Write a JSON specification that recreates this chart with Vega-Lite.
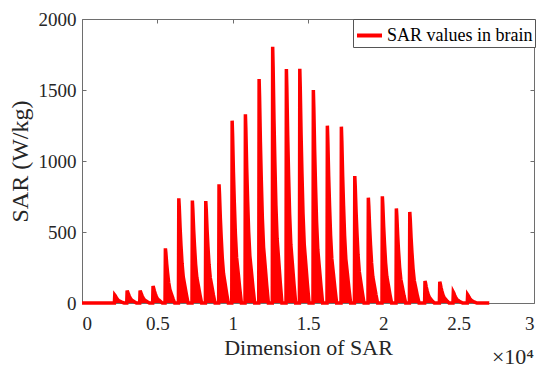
{
  "$schema": "https://vega.github.io/schema/vega-lite/v6.json",
  "autosize": "none",
  "width": 452,
  "height": 284,
  "padding": {"left": 82, "top": 19, "right": 16, "bottom": 70},
  "background": "white",
  "config": {
    "font": "Liberation Serif, serif",
    "view": {"stroke": "#6e6e6e", "strokeWidth": 1},
    "axis": {
      "grid": false,
      "domain": false,
      "tickColor": "#6e6e6e",
      "tickSize": -4,
      "labelFont": "Liberation Serif, serif",
      "labelFontSize": 19,
      "labelColor": "#262626",
      "titleFont": "Liberation Serif, serif",
      "titleFontWeight": "normal",
      "titleColor": "#262626"
    },
    "legend": {"labelFont": "Liberation Serif, serif"}
  },
  "title": {
    "text": "×10⁴",
    "orient": "bottom",
    "anchor": "end",
    "frame": "group",
    "font": "Liberation Serif, serif",
    "fontSize": 22,
    "fontWeight": "normal",
    "color": "#262626",
    "offset": -11
  },
  "data": {
    "values": [
      {"x": 0, "y": 0},
      {"x": 2150, "y": 0}, {"x": 2175, "y": 56}, {"x": 2205, "y": 52}, {"x": 2260, "y": 40}, {"x": 2320, "y": 31}, {"x": 2390, "y": 21}, {"x": 2470, "y": 14}, {"x": 2570, "y": 10}, {"x": 2680, "y": 4}, {"x": 2790, "y": 0},
      {"x": 2970, "y": 0}, {"x": 2995, "y": 87}, {"x": 3025, "y": 80}, {"x": 3080, "y": 63}, {"x": 3140, "y": 48}, {"x": 3210, "y": 33}, {"x": 3290, "y": 22}, {"x": 3390, "y": 15}, {"x": 3500, "y": 7}, {"x": 3610, "y": 0},
      {"x": 3830, "y": 0}, {"x": 3855, "y": 87}, {"x": 3885, "y": 80}, {"x": 3940, "y": 63}, {"x": 4000, "y": 48}, {"x": 4070, "y": 33}, {"x": 4150, "y": 22}, {"x": 4250, "y": 15}, {"x": 4360, "y": 7}, {"x": 4470, "y": 0},
      {"x": 4690, "y": 0}, {"x": 4715, "y": 120}, {"x": 4745, "y": 110}, {"x": 4800, "y": 86}, {"x": 4860, "y": 66}, {"x": 4930, "y": 46}, {"x": 5010, "y": 30}, {"x": 5110, "y": 20}, {"x": 5220, "y": 10}, {"x": 5330, "y": 0},
      {"x": 5510, "y": 0}, {"x": 5535, "y": 385}, {"x": 5565, "y": 354}, {"x": 5620, "y": 277}, {"x": 5680, "y": 212}, {"x": 5750, "y": 146}, {"x": 5830, "y": 96}, {"x": 5930, "y": 65}, {"x": 6040, "y": 31}, {"x": 6150, "y": 0},
      {"x": 6400, "y": 0}, {"x": 6425, "y": 737}, {"x": 6455, "y": 678}, {"x": 6510, "y": 531}, {"x": 6570, "y": 405}, {"x": 6640, "y": 280}, {"x": 6720, "y": 184}, {"x": 6820, "y": 125}, {"x": 6930, "y": 59}, {"x": 7040, "y": 0},
      {"x": 7300, "y": 0}, {"x": 7325, "y": 721}, {"x": 7355, "y": 663}, {"x": 7410, "y": 519}, {"x": 7470, "y": 397}, {"x": 7540, "y": 274}, {"x": 7620, "y": 180}, {"x": 7720, "y": 123}, {"x": 7830, "y": 58}, {"x": 7940, "y": 0},
      {"x": 8190, "y": 0}, {"x": 8215, "y": 718}, {"x": 8245, "y": 661}, {"x": 8300, "y": 517}, {"x": 8360, "y": 395}, {"x": 8430, "y": 273}, {"x": 8510, "y": 180}, {"x": 8610, "y": 122}, {"x": 8720, "y": 57}, {"x": 8830, "y": 0},
      {"x": 9070, "y": 0}, {"x": 9095, "y": 836}, {"x": 9125, "y": 769}, {"x": 9180, "y": 602}, {"x": 9240, "y": 460}, {"x": 9310, "y": 318}, {"x": 9390, "y": 209}, {"x": 9490, "y": 142}, {"x": 9600, "y": 67}, {"x": 9710, "y": 0},
      {"x": 9940, "y": 0}, {"x": 9965, "y": 1284}, {"x": 9995, "y": 1181}, {"x": 10050, "y": 924}, {"x": 10110, "y": 706}, {"x": 10180, "y": 488}, {"x": 10260, "y": 321}, {"x": 10360, "y": 218}, {"x": 10470, "y": 103}, {"x": 10580, "y": 0},
      {"x": 10820, "y": 0}, {"x": 10845, "y": 1329}, {"x": 10875, "y": 1223}, {"x": 10930, "y": 957}, {"x": 10990, "y": 731}, {"x": 11060, "y": 505}, {"x": 11140, "y": 332}, {"x": 11240, "y": 226}, {"x": 11350, "y": 106}, {"x": 11460, "y": 0},
      {"x": 11730, "y": 0}, {"x": 11755, "y": 1577}, {"x": 11785, "y": 1451}, {"x": 11840, "y": 1135}, {"x": 11900, "y": 867}, {"x": 11970, "y": 599}, {"x": 12050, "y": 394}, {"x": 12150, "y": 268}, {"x": 12260, "y": 126}, {"x": 12370, "y": 0},
      {"x": 12630, "y": 0}, {"x": 12655, "y": 1805}, {"x": 12685, "y": 1661}, {"x": 12740, "y": 1300}, {"x": 12800, "y": 993}, {"x": 12870, "y": 686}, {"x": 12950, "y": 451}, {"x": 13050, "y": 307}, {"x": 13160, "y": 144}, {"x": 13270, "y": 0},
      {"x": 13540, "y": 0}, {"x": 13565, "y": 1648}, {"x": 13595, "y": 1516}, {"x": 13650, "y": 1187}, {"x": 13710, "y": 906}, {"x": 13780, "y": 626}, {"x": 13860, "y": 412}, {"x": 13960, "y": 280}, {"x": 14070, "y": 132}, {"x": 14180, "y": 0},
      {"x": 14430, "y": 0}, {"x": 14455, "y": 1650}, {"x": 14485, "y": 1518}, {"x": 14540, "y": 1188}, {"x": 14600, "y": 908}, {"x": 14670, "y": 627}, {"x": 14750, "y": 413}, {"x": 14850, "y": 281}, {"x": 14960, "y": 132}, {"x": 15070, "y": 0},
      {"x": 15330, "y": 0}, {"x": 15355, "y": 1500}, {"x": 15385, "y": 1380}, {"x": 15440, "y": 1080}, {"x": 15500, "y": 825}, {"x": 15570, "y": 570}, {"x": 15650, "y": 375}, {"x": 15750, "y": 255}, {"x": 15860, "y": 120}, {"x": 15970, "y": 0},
      {"x": 16260, "y": 0}, {"x": 16285, "y": 1249}, {"x": 16315, "y": 1149}, {"x": 16370, "y": 899}, {"x": 16430, "y": 687}, {"x": 16500, "y": 475}, {"x": 16580, "y": 312}, {"x": 16680, "y": 212}, {"x": 16790, "y": 100}, {"x": 16900, "y": 0},
      {"x": 17190, "y": 0}, {"x": 17215, "y": 1242}, {"x": 17245, "y": 1143}, {"x": 17300, "y": 894}, {"x": 17360, "y": 683}, {"x": 17430, "y": 472}, {"x": 17510, "y": 311}, {"x": 17610, "y": 211}, {"x": 17720, "y": 99}, {"x": 17830, "y": 0},
      {"x": 18080, "y": 0}, {"x": 18105, "y": 894}, {"x": 18135, "y": 822}, {"x": 18190, "y": 644}, {"x": 18250, "y": 492}, {"x": 18320, "y": 340}, {"x": 18400, "y": 224}, {"x": 18500, "y": 152}, {"x": 18610, "y": 72}, {"x": 18720, "y": 0},
      {"x": 18980, "y": 0}, {"x": 19005, "y": 742}, {"x": 19035, "y": 683}, {"x": 19090, "y": 534}, {"x": 19150, "y": 408}, {"x": 19220, "y": 282}, {"x": 19300, "y": 186}, {"x": 19400, "y": 126}, {"x": 19510, "y": 59}, {"x": 19620, "y": 0},
      {"x": 19910, "y": 0}, {"x": 19935, "y": 751}, {"x": 19965, "y": 691}, {"x": 20020, "y": 541}, {"x": 20080, "y": 413}, {"x": 20150, "y": 285}, {"x": 20230, "y": 188}, {"x": 20330, "y": 128}, {"x": 20440, "y": 60}, {"x": 20550, "y": 0},
      {"x": 20840, "y": 0}, {"x": 20865, "y": 666}, {"x": 20895, "y": 613}, {"x": 20950, "y": 480}, {"x": 21010, "y": 366}, {"x": 21080, "y": 253}, {"x": 21160, "y": 167}, {"x": 21260, "y": 113}, {"x": 21370, "y": 53}, {"x": 21480, "y": 0},
      {"x": 21730, "y": 0}, {"x": 21755, "y": 641}, {"x": 21785, "y": 590}, {"x": 21840, "y": 462}, {"x": 21900, "y": 353}, {"x": 21970, "y": 244}, {"x": 22050, "y": 160}, {"x": 22150, "y": 109}, {"x": 22260, "y": 51}, {"x": 22370, "y": 0},
      {"x": 22740, "y": 0}, {"x": 22765, "y": 155}, {"x": 22795, "y": 143}, {"x": 22850, "y": 112}, {"x": 22910, "y": 85}, {"x": 22980, "y": 59}, {"x": 23060, "y": 39}, {"x": 23160, "y": 26}, {"x": 23270, "y": 12}, {"x": 23380, "y": 0},
      {"x": 23720, "y": 0}, {"x": 23745, "y": 150}, {"x": 23775, "y": 138}, {"x": 23830, "y": 108}, {"x": 23890, "y": 83}, {"x": 23960, "y": 57}, {"x": 24040, "y": 38}, {"x": 24140, "y": 26}, {"x": 24250, "y": 12}, {"x": 24360, "y": 0},
      {"x": 24620, "y": 0}, {"x": 24645, "y": 77}, {"x": 24675, "y": 71}, {"x": 24730, "y": 55}, {"x": 24790, "y": 42}, {"x": 24860, "y": 29}, {"x": 24940, "y": 19}, {"x": 25040, "y": 13}, {"x": 25150, "y": 6}, {"x": 25260, "y": 0},
      {"x": 25570, "y": 0}, {"x": 25595, "y": 58}, {"x": 25625, "y": 53}, {"x": 25680, "y": 42}, {"x": 25740, "y": 32}, {"x": 25810, "y": 22}, {"x": 25890, "y": 15}, {"x": 25990, "y": 10}, {"x": 26100, "y": 5}, {"x": 26210, "y": 0},
      {"x": 27030, "y": 0}
    ]
  },
  "layer": [
    {
      "mark": {"type": "area", "color": "#ff0000", "opacity": 1},
      "encoding": {
        "x": {
          "field": "x", "type": "quantitative",
          "scale": {"domain": [0, 30000], "nice": false, "zero": false},
          "axis": {"orient": "top", "labels": false, "title": null, "values": [0, 5000, 10000, 15000, 20000, 25000, 30000]}
        },
        "y": {
          "field": "y", "type": "quantitative",
          "scale": {"domain": [0, 2000], "nice": false},
          "axis": {"orient": "right", "labels": false, "title": null, "values": [0, 500, 1000, 1500, 2000]}
        }
      }
    },
    {
      "mark": {"type": "line", "strokeWidth": 3.5},
      "encoding": {
        "x": {
          "field": "x", "type": "quantitative",
          "axis": {
            "orient": "bottom",
            "title": "Dimension of SAR",
            "titleFont": "Liberation Serif, serif",
            "titleFontSize": 22,
            "titlePadding": 4,
            "labelFont": "Liberation Serif, serif",
            "labelFontSize": 19,
            "labelPadding": 15,
            "values": [0, 5000, 10000, 15000, 20000, 25000, 30000],
            "labelExpr": "format(datum.value / 10000, '~g')"
          }
        },
        "y": {
          "field": "y", "type": "quantitative",
          "axis": {
            "orient": "left",
            "title": "SAR (W/kg)",
            "titleFont": "Liberation Serif, serif",
            "titleFontSize": 24,
            "titlePadding": 6,
            "labelFont": "Liberation Serif, serif",
            "labelFontSize": 19,
            "labelPadding": 10,
            "format": "d",
            "values": [0, 500, 1000, 1500, 2000]
          }
        },
        "color": {
          "datum": "SAR values in brain",
          "type": "nominal",
          "scale": {"range": ["#ff0000"]},
          "legend": {
            "title": null,
            "orient": "none",
            "legendX": 271,
            "legendY": 0,
            "symbolType": "stroke",
            "symbolSize": 625,
            "symbolStrokeWidth": 4,
            "labelFont": "Liberation Serif, serif",
            "labelFontSize": 18,
            "labelColor": "#000000",
            "labelOffset": 3,
            "padding": 2,
            "strokeColor": "#555555",
            "fillColor": "#ffffff"
          }
        }
      }
    }
  ],
  "resolve": {"axis": {"x": "independent", "y": "independent"}}
}
